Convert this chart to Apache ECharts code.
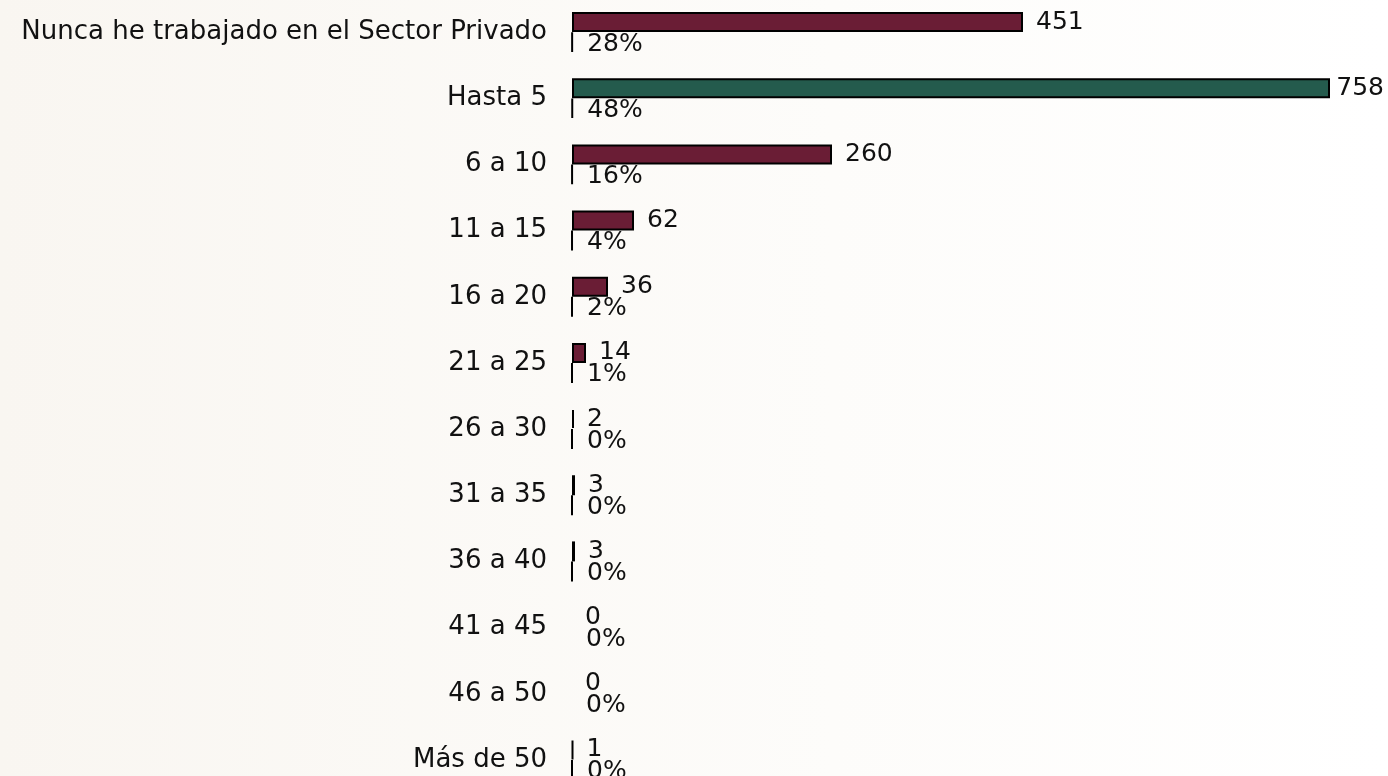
<!DOCTYPE html>
<html lang="es">

<head>
  <meta charset="UTF-8">
  <title>Años en el Sector Privado</title>
  <script src="https://cdn.jsdelivr.net/npm/echarts@6/dist/echarts.min.js"></script>
  <style>
    * {
      margin: 0;
      padding: 0;
      box-sizing: border-box;
    }

    body {
      background: #fcfbf8;
    }

    #chart {
      width: 1388px;
      height: 776px;
    }
  </style>
</head>

<body>
  <div id="chart"></div>

  <script>
    const categories = ['Nunca he trabajado en el Sector Privado', 'Hasta 5', '6 a 10', '11 a 15', '16 a 20',
      '21 a 25', '26 a 30', '31 a 35', '36 a 40', '41 a 45', '46 a 50', 'Más de 50'];
    const counts = [451, 758, 260, 62, 36, 14, 2, 3, 3, 0, 0, 1];
    // share of total (fraction), labels rounded to whole %
    const shares = [0.28, 0.48, 0.16, 0.04, 0.02, 0.01, 0.0013, 0.0019, 0.0019, 0, 0, 0.0006];

    const maxCount = Math.max(...counts);
    const font = 'DejaVu Sans';

    const myChart = echarts.init(document.getElementById('chart'));

    const option = {
      backgroundColor: {
        type: 'linear', x: 0, y: 0, x2: 1, y2: 0,
        colorStops: [{ offset: 0, color: '#f9f6f1' }, { offset: 0.6, color: '#fdfcfa' }, { offset: 1, color: '#ffffff' }]
      },
      animation: false,
      grid: {
        left: 572,
        width: 816,
        top: -1,
        height: 794,
        outerBoundsMode: 'none'
      },
      xAxis: {
        type: 'value',
        min: 0,
        max: 816,
        show: false
      },
      yAxis: {
        type: 'category',
        data: categories,
        inverse: true,
        axisLine: { show: false },
        axisTick: { show: false },
        axisLabel: {
          margin: 25,
          fontFamily: font,
          fontSize: 26,
          color: '#111'
        }
      },
      series: [{
        name: 'Total',
        type: 'bar',
        barWidth: 20,
        barGap: '0%',
        data: counts.map(v => ({
          value: v,
          itemStyle: {
            color: v === maxCount ? '#245b4d' : '#6a1d35',
            borderWidth: v === 0 ? 0 : 2
          }
        })),
        itemStyle: { borderColor: '#000', borderWidth: 2 },
        label: {
          show: true,
          position: 'right',
          distance: 13,
          fontFamily: font,
          fontSize: 25,
          color: '#111'
        },
        // keep the longest label inside the canvas
        labelLayout: function (params) {
          const r = params.labelRect;
          if (r.x + r.width > 1384) {
            return { x: 1384 - r.width, y: r.y + r.height / 2, align: 'left', verticalAlign: 'middle' };
          }
          return {};
        }
      }, {
        name: 'Porcentaje',
        type: 'bar',
        barWidth: 20,
        data: shares.map(v => ({
          value: v,
          itemStyle: { borderWidth: v === 0 ? 0 : 2 }
        })),
        itemStyle: { color: '#6a1d35', borderColor: '#000', borderWidth: 2 },
        label: {
          show: true,
          position: 'right',
          distance: 14,
          offset: [0, 2],
          fontFamily: font,
          fontSize: 25,
          color: '#111',
          formatter: p => Math.round(p.value * 100) + '%'
        }
      }]
    };

    myChart.setOption(option);
  </script>
</body>

</html>
